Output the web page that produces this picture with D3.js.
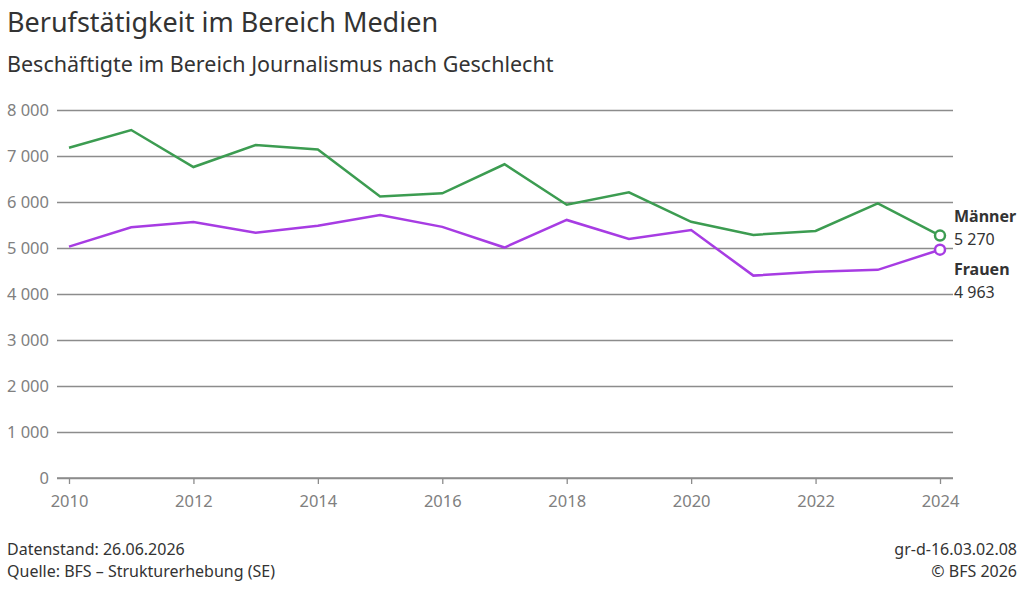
<!DOCTYPE html>
<html>
<head>
<meta charset="utf-8">
<script src="https://cdn.jsdelivr.net/npm/d3@7"></script>
<style>
  body { margin: 0; background: #fff; }
  svg { display: block; font-family: "Noto Sans", sans-serif; }
</style>
</head>
<body>
<div id="chart"></div>
<script>
// data
const years = [2010, 2011, 2012, 2013, 2014, 2015, 2016, 2017, 2018, 2019, 2020, 2021, 2022, 2023, 2024];
const maenner = [7180, 7565, 6760, 7240, 7140, 6120, 6190, 6820, 5940, 6210, 5570, 5285, 5370, 5970, 5270];
const frauen = [5030, 5450, 5565, 5330, 5485, 5715, 5460, 5010, 5610, 5195, 5390, 4400, 4485, 4525, 4963];
const yTicks = [0, 1000, 2000, 3000, 4000, 5000, 6000, 7000, 8000];
const xTicks = [2010, 2012, 2014, 2016, 2018, 2020, 2022, 2024];

const W = 1024, H = 589;
const green = "#3c9c51", purple = "#a73ce3";

const svg = d3.select("#chart").append("svg")
  .attr("width", W).attr("height", H);

const x = d3.scaleLinear().domain([2010, 2024]).range([69, 940]);
const y = d3.scaleLinear().domain([0, 8000]).range([478, 110]);
const fmtNum = d => String(d).replace(/\B(?=(\d{3})+(?!\d))/g, " ");

// titles
svg.append("text").attr("x", 7).attr("y", 32)
  .attr("font-size", 27).attr("fill", "#333").text("Berufstätigkeit im Bereich Medien");
svg.append("text").attr("x", 7).attr("y", 72)
  .attr("font-size", 21.5).attr("fill", "#333").text("Beschäftigte im Bereich Journalismus nach Geschlecht");

// gridlines + y labels
const yAxis = d3.axisLeft(y).tickValues(yTicks).tickSize(-(953 - 57)).tickFormat(fmtNum);
svg.append("g").attr("transform", "translate(57,0)").call(yAxis)
  .call(g => g.select(".domain").remove())
  .call(g => g.selectAll(".tick line").attr("stroke", "#8c8c8c").attr("stroke-width", 1.3))
  .call(g => g.selectAll(".tick text").attr("x", -8).attr("font-size", 16.5)
    .attr("fill", "#808080").attr("font-family", "Noto Sans"));

// x axis
const xAxis = d3.axisBottom(x).tickValues(xTicks).tickFormat(d3.format("d")).tickSize(6).tickSizeOuter(0);
svg.append("g").attr("transform", "translate(0,478)").call(xAxis)
  .call(g => g.select(".domain").attr("d", "M57,0H953").attr("stroke", "#8c8c8c").attr("stroke-width", 1.3))
  .call(g => g.selectAll(".tick line").attr("stroke", "#8c8c8c").attr("stroke-width", 1.3))
  .call(g => g.selectAll(".tick text").attr("y", 17).attr("dy", "0.71em").attr("font-size", 16.5)
    .attr("fill", "#808080").attr("font-family", "Noto Sans"));

// lines
const series = [
  { name: "Männer", values: maenner, color: green },
  { name: "Frauen", values: frauen, color: purple }
];
const line = d3.line().x((d, i) => x(years[i])).y(d => y(d));

series.forEach(s => {
  svg.append("path").datum(s.values)
    .attr("d", line).attr("fill", "none")
    .attr("stroke", s.color).attr("stroke-width", 2.5)
    .attr("stroke-linejoin", "miter");
  const last = s.values[s.values.length - 1];
  svg.append("circle")
    .attr("cx", x(years[years.length - 1])).attr("cy", y(last)).attr("r", 5)
    .attr("fill", "#fff").attr("stroke", s.color).attr("stroke-width", 2.5);
});

// end labels
const labelPos = [{ ny: 222, vy: 245 }, { ny: 275, vy: 298 }];
series.forEach((s, i) => {
  svg.append("text").attr("x", 954).attr("y", labelPos[i].ny)
    .attr("font-size", 16).attr("font-weight", "bold").attr("fill", "#333").text(s.name);
  svg.append("text").attr("x", 954).attr("y", labelPos[i].vy)
    .attr("font-size", 16).attr("fill", "#333").text(fmtNum(s.values[s.values.length - 1]));
});

// footer
svg.append("text").attr("x", 7).attr("y", 555).attr("font-size", 16).attr("fill", "#333")
  .text("Datenstand: 26.06.2026");
svg.append("text").attr("x", 7).attr("y", 577).attr("font-size", 16).attr("fill", "#333")
  .text("Quelle: BFS \u2013 Strukturerhebung (SE)");
svg.append("text").attr("x", 1017).attr("y", 555).attr("font-size", 16).attr("fill", "#333")
  .attr("text-anchor", "end").text("gr-d-16.03.02.08");
svg.append("text").attr("x", 1017).attr("y", 577).attr("font-size", 16).attr("fill", "#333")
  .attr("text-anchor", "end").text("\u00a9 BFS 2026");
</script>
</body>
</html>
